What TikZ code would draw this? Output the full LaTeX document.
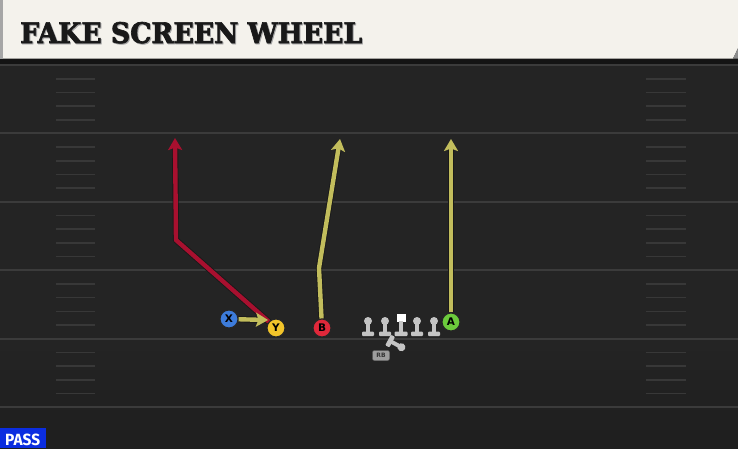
\documentclass[tikz,border=0pt]{standalone}
\usepackage{fontspec}
\setmainfont{DejaVu Sans}
\newfontfamily\titlefont{DejaVu Serif}[BoldFeatures={FakeBold=2.5}]
\newfontfamily\passfont{Fira Sans}
\usetikzlibrary{arrows.meta}
\definecolor{fieldbg}{HTML}{242424}
\definecolor{yardline}{HTML}{3B3B3B}
\definecolor{hashc}{HTML}{383838}
\definecolor{cream}{HTML}{F4F2EC}
\definecolor{olivert}{HTML}{C2BD5C}
\definecolor{redrt}{HTML}{A8102F}
\definecolor{xblue}{HTML}{3D7CDB}
\definecolor{yyellow}{HTML}{F2C42A}
\definecolor{bred}{HTML}{E0283A}
\definecolor{agreen}{HTML}{6CCB3C}
\definecolor{pawnc}{HTML}{C4C4C4}
\definecolor{passblue}{HTML}{0B2DE0}
\tikzset{
  player/.style={circle, minimum size=18pt, inner sep=0pt, draw=black!85, line width=1.1pt,
    fill=#1, text=black, font=\bfseries\fontsize{10.5}{10.5}\selectfont},
  route/.style={line width=4.4pt, draw=#1, line join=round,
    preaction={draw=black!90, line width=6.2pt, shorten >=9pt, line join=round, arrows=-},
    -{Stealth[length=12pt,width=14pt,inset=2.5pt]}},
  yard/.style={draw=yardline, line width=2pt},
  hash/.style={draw=hashc, line width=1.6pt},
  pics/lineman/.style={code={
    \fill[pawnc] (0,-13) circle (4);
    \fill[pawnc] (-2,-13) rectangle (2,0);
    \fill[pawnc, rounded corners=1pt] (-6,-2.5) rectangle (6,2.2);}},
  pics/centerman/.style={code={
    \fill[white] (-4.5,-20.5) rectangle (4.5,-12);
    \fill[pawnc] (-2,-13) rectangle (2,0);
    \fill[pawnc, rounded corners=1pt] (-6.5,-2.5) rectangle (6.5,2.2);}},
  rbbox/.style={draw=black!60, fill=pawnc!80!black, rounded corners=2pt, minimum width=17pt,
    minimum height=10pt, inner sep=0pt, text=black!80, font=\bfseries\fontsize{6}{6}\selectfont}
}
\begin{document}
\begin{tikzpicture}[x=1pt,y=-1pt]
\useasboundingbox (0,0) rectangle (738,448);
% field
\fill[fieldbg] (0,0) rectangle (738,448);
\shade[top color=fieldbg, bottom color=black!88] (0,340) rectangle (738,448);
% yard lines
\foreach \yy in {65,133.4,201.8,270.2,338.6,407} \draw[yard] (0,\yy) -- (738,\yy);
% hash marks
\foreach \L in {65,133.4,201.8,270.2,338.6} {
  \foreach \k in {1,2,3,4} {
    \draw[hash] (56,\L+13.7*\k) -- (95,\L+13.7*\k);
    \draw[hash] (646,\L+13.7*\k) -- (686,\L+13.7*\k);
  }
}
% header
\fill[black!92] (0,57) rectangle (738,64);
\fill[cream] (3,0) -- (738,0) -- (738,48) -- (733,58.5) -- (3,58.5) -- cycle;
\fill[black!35] (0,0) rectangle (3,58.5);
\fill[black!45] (738,48) -- (738,58.5) -- (733,58.5) -- cycle;
\node[anchor=base west, inner sep=0pt, text=black!35] (titleshadow) at (21,44)
  {\resizebox{342pt}{21pt}{\titlefont\bfseries FAKE SCREEN WHEEL}};
\node[anchor=base west, inner sep=0pt, text=black!90] (title) at (20,43)
  {\resizebox{342pt}{21pt}{\titlefont\bfseries FAKE SCREEN WHEEL}};
% pass label
\fill[passblue] (0,428) rectangle (46,448);
\node[anchor=base west, inner sep=0pt, text=white] (pass) at (5,445)
  {\resizebox{35pt}{11.5pt}{\passfont\bfseries PASS}};
% offensive line
\pic at (368,334) {lineman};
\pic at (385,334) {lineman};
\pic at (401,334) {centerman};
\pic at (417,334) {lineman};
\pic at (434,334) {lineman};
% running back
\pic[rotate=-118.6] at (390,341) {lineman};
\node[rbbox] (RB) at (381,355.5) {RB};
% players
\node[player=xblue] (X) at (229,319) {X};
\node[player=yyellow] (Y) at (276,328) {Y};
\node[player=bred] (B) at (322,328) {B};
\node[player=agreen] (A) at (451,322) {A};
% route points
\coordinate (ybend) at (176,240);
\coordinate (ytip) at (175,138);
\coordinate (xtip) at (268,320);
\coordinate (bbend) at (319,268);
\coordinate (btip) at (340,139);
\coordinate (atip) at (451,139);
% routes
\draw[route=redrt] (Y) -- (ybend) -- (ytip);
\draw[route=olivert] (X) -- (xtip);
\draw[route=olivert] (B) -- (bbend) -- (btip);
\draw[route=olivert] (A) -- (atip);
\end{tikzpicture}
\end{document}
